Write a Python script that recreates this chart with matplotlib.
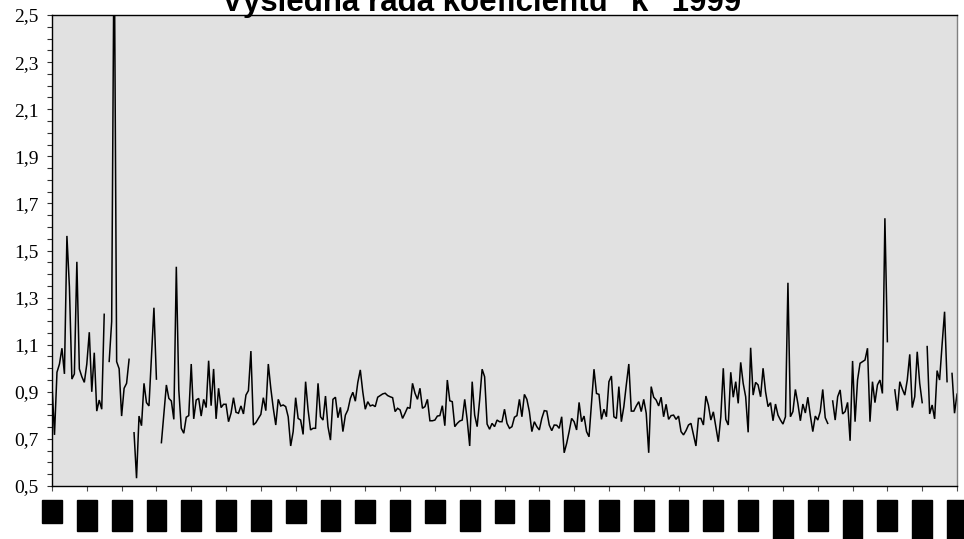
import numpy as np
import matplotlib
matplotlib.use("Agg")
import matplotlib.pyplot as plt

nan = np.nan

title = 'Výsledná řada koeficientu "k" 1999'

# daily values of coefficient k (day 0 = 1.1.1999)
k_jan_feb = [0.93, 0.717, 0.983, 1.018, 1.085, 0.976, 1.562, 1.346, 0.954, 0.976,
             1.452, 0.997, 0.964, 0.940, 1.018, 1.153, 0.900, 1.066, 0.818, 0.865,
             0.826, 1.229, nan, 1.029, 1.198, 2.9, 1.028, 0.998, 0.797, 0.915,
             0.936, 1.038, nan, 0.726, 0.533, 0.797, 0.756, 0.936, 0.854, 0.840,
             1.05, 1.257, 0.954, nan, 0.684, 0.809, 0.929, 0.872, 0.861, 0.783,
             1.431, 0.908, 0.745, 0.724, 0.792, 0.799, 1.018, 0.785, 0.865, 0.872]
k_mar_apr = [0.797, 0.868, 0.833, 1.032, 0.841, 0.997, 0.785, 0.915, 0.833, 0.847,
             0.847, 0.773, 0.809, 0.875, 0.813, 0.809, 0.840, 0.806, 0.886, 0.905,
             1.073, 0.759, 0.769, 0.787, 0.804, 0.875, 0.820, 1.018, 0.915, 0.830,
             0.759, 0.868, 0.840, 0.844, 0.837, 0.794, 0.670, 0.731, 0.875, 0.787,
             0.780, 0.719, 0.943, 0.823, 0.738, 0.745, 0.745, 0.936, 0.794, 0.780,
             0.882, 0.752, 0.695, 0.868, 0.877, 0.790, 0.834, 0.731, 0.801, 0.823]
k_may_jun = [0.872, 0.898, 0.86, 0.94, 0.993, 0.900, 0.826, 0.858, 0.840, 0.844,
             0.837, 0.877, 0.884, 0.891, 0.894, 0.884, 0.879, 0.875, 0.816, 0.830,
             0.823, 0.787, 0.809, 0.833, 0.830, 0.936, 0.894, 0.868, 0.915, 0.830,
             0.837, 0.868, 0.777, 0.777, 0.780, 0.797, 0.799, 0.841, 0.756, 0.950,
             0.862, 0.858, 0.752, 0.766, 0.776, 0.780, 0.868, 0.780, 0.670, 0.943,
             0.801, 0.752, 0.865, 0.996, 0.964, 0.763, 0.741, 0.766, 0.752, 0.780]
k_jul_aug = [0.773, 0.773, 0.826, 0.766, 0.745, 0.752, 0.792, 0.799, 0.868, 0.794,
             0.889, 0.868, 0.816, 0.731, 0.773, 0.752, 0.738, 0.787, 0.820, 0.818,
             0.759, 0.735, 0.759, 0.758, 0.745, 0.794, 0.641, 0.681, 0.731, 0.787,
             0.773, 0.738, 0.855, 0.773, 0.797, 0.731, 0.709, 0.85, 0.996, 0.893,
             0.889, 0.783, 0.826, 0.794, 0.943, 0.967, 0.794, 0.787, 0.922, 0.773,
             0.837, 0.93, 1.018, 0.818, 0.818, 0.840, 0.858, 0.816, 0.868, 0.809]
k_sep_oct = [0.641, 0.922, 0.877, 0.865, 0.840, 0.877, 0.794, 0.847, 0.783, 0.799,
             0.801, 0.783, 0.797, 0.731, 0.717, 0.735, 0.759, 0.766, 0.717, 0.670,
             0.787, 0.787, 0.759, 0.882, 0.844, 0.780, 0.815, 0.752, 0.688, 0.794,
             1.000, 0.783, 0.759, 0.983, 0.877, 0.943, 0.851, 1.025, 0.936, 0.879,
             0.728, 1.087, 0.886, 0.940, 0.929, 0.879, 1.000, 0.900, 0.837, 0.854,
             0.777, 0.848, 0.801, 0.78, 0.763, 0.794, 1.363, 0.794, 0.816, 0.910]
k_nov_dec = [0.85, 0.777, 0.848, 0.81, 0.877, 0.80, 0.731, 0.797, 0.780, 0.816,
             0.910, 0.79, 0.766, nan, 0.861, 0.780, 0.879, 0.908, 0.806, 0.816,
             0.855, 0.692, 1.031, 0.773, 0.95, 1.021, 1.028, 1.035, 1.085, 0.773,
             0.943, 0.854, 0.929, 0.950, 0.893, 1.637, 1.113, nan, nan, 0.908,
             0.820, 0.943, 0.912, 0.886, 0.950, 1.059, 0.833, 0.879, 1.070, 0.936,
             0.854, nan, 1.092, 0.806, 0.844, 0.785, 0.990, 0.950, 1.10, 1.240,
             0.943, nan, 0.978, 0.809, 0.89]

k_values = k_jan_feb + k_mar_apr + k_may_jun + k_jul_aug + k_sep_oct + k_nov_dec
days = np.arange(len(k_values))

date_labels = ["1.1", "15.1", "29.1", "12.2", "26.2", "12.3", "26.3",
               "9.4", "23.4", "7.5", "21.5", "4.6", "18.6", "2.7",
               "16.7", "30.7", "13.8", "27.8", "10.9", "24.9", "8.10",
               "22.10", "5.11", "19.11", "3.12", "17.12", "31.12"]
date_ticks = np.arange(0, 365, 14)

y_major = [0.5, 0.7, 0.9, 1.1, 1.3, 1.5, 1.7, 1.9, 2.1, 2.3, 2.5]
y_labels = ["0,5", "0,7", "0,9", "1,1", "1,3", "1,5", "1,7", "1,9", "2,1", "2,3", "2,5"]

fig = plt.figure(figsize=(9.64, 5.39), dpi=100)
ax = fig.add_axes([52 / 964, 1 - 486 / 539, (957 - 52) / 964, (486 - 15) / 539])
ax.set_facecolor("#E1E1E1")

ax.plot(days, np.array(k_values, dtype=float), color="black", lw=1.1,
        solid_joinstyle="miter")

ax.set_xlim(0, 364)
ax.set_ylim(0.5, 2.5)

ax.set_yticks(y_major)
ax.set_yticklabels(y_labels, fontfamily="Liberation Serif", fontsize=14)
ax.set_yticks(np.arange(0.5, 2.5001, 0.05), minor=True)
ax.tick_params(axis="y", which="both", direction="out", length=3.6, width=0.8,
               color="#303030", pad=6)

ax.set_xticks(date_ticks)
ax.set_xticklabels(date_labels, rotation=90, fontfamily="Liberation Serif",
                   fontsize=11.5, color="black")
ax.tick_params(axis="x", which="major", direction="out", length=3.6, width=0.8,
               color="#505050", pad=7.6)
for lbl in ax.get_xticklabels():
    lbl.set_bbox(dict(facecolor="black", edgecolor="black",
                      boxstyle="square,pad=0.12"))

for side in ("left", "bottom", "top"):
    ax.spines[side].set_color("black")
    ax.spines[side].set_linewidth(1.0)
ax.spines["right"].set_color("#808080")
ax.spines["right"].set_linewidth(1.0)

fig.text(0.5, 1 - 11 / 539, title, ha="center", va="baseline",
         fontfamily="Liberation Sans", fontweight="bold", fontsize=22.5)

fig.savefig("out.png", dpi=100)
